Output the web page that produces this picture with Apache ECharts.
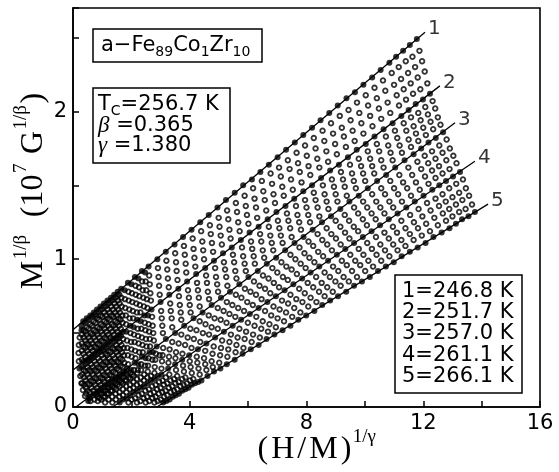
<!DOCTYPE html>
<html>
<head>
<meta charset="utf-8">
<script src="https://cdn.jsdelivr.net/npm/echarts@6/dist/echarts.min.js"></script>
<style>
html,body{margin:0;padding:0;background:#fff;}
#chart{width:559px;height:472px;}
</style>
</head>
<body>
<div id="chart"></div>
<script>
// Modified Arrott plot isotherms, a-Fe89Co1Zr10: [(H/M)^(1/gamma), M^(1/beta)] pairs.
// iso01, iso06, iso11, iso16, iso21 are the labelled isotherms 1-5 (filled dots).
// The second row of the colder isotherms holds the dense low-field readings.
const iso01 = [[0.29,0.52],[0.35,0.58],[0.47,0.60],[0.59,0.62],[0.71,0.64],[0.82,0.66],[0.94,0.68],[1.06,0.70],[1.18,0.72],[1.30,0.74],[1.41,0.76],[1.53,0.78],[1.65,0.80],[1.88,0.84],[2.12,0.88],[2.36,0.92],[2.59,0.95],[2.89,1.00],[3.18,1.05],[3.48,1.10],[3.77,1.15],[4.06,1.20],[4.36,1.25],[4.65,1.30],[4.95,1.35],[5.24,1.40],[5.54,1.45],[5.83,1.50],[6.13,1.54],[6.42,1.59],[6.71,1.64],[7.01,1.69],[7.30,1.74],[7.60,1.79],[7.89,1.84],[8.19,1.89],[8.48,1.94],[8.78,1.99],[9.07,2.04],[9.37,2.09],[9.66,2.13],[9.95,2.18],[10.25,2.23],[10.54,2.28],[10.84,2.33],[11.07,2.37],[11.31,2.41],[11.54,2.45],[11.78,2.49],
  [0.29,0.55],[0.41,0.57],[0.53,0.59],[0.65,0.61],[0.77,0.62],[0.88,0.64],[1.00,0.66],[1.12,0.68],[1.24,0.70],[1.35,0.72],[1.47,0.74],[1.59,0.76],[1.77,0.79],[2.00,0.83],[2.24,0.87],[2.47,0.91]];
const iso02 = [[0.23,0.47],[0.36,0.52],[0.47,0.54],[0.59,0.56],[0.71,0.58],[0.83,0.60],[0.95,0.62],[1.07,0.64],[1.19,0.66],[1.31,0.68],[1.42,0.70],[1.54,0.72],[1.66,0.74],[1.90,0.78],[2.14,0.82],[2.37,0.85],[2.61,0.89],[2.91,0.94],[3.20,0.99],[3.50,1.04],[3.80,1.09],[4.10,1.14],[4.39,1.19],[4.69,1.23],[4.99,1.28],[5.28,1.33],[5.58,1.38],[5.88,1.43],[6.17,1.48],[6.47,1.53],[6.77,1.58],[7.06,1.62],[7.36,1.67],[7.66,1.72],[7.95,1.77],[8.25,1.82],[8.55,1.87],[8.84,1.92],[9.14,1.97],[9.44,2.01],[9.73,2.06],[10.03,2.11],[10.33,2.16],[10.62,2.21],[10.92,2.26],[11.16,2.30],[11.40,2.34],[11.63,2.37],[11.87,2.41],
  [0.30,0.49],[0.42,0.51],[0.53,0.53],[0.65,0.55],[0.77,0.57],[0.89,0.59],[1.01,0.61],[1.13,0.62],[1.25,0.64],[1.37,0.66],[1.48,0.68],[1.60,0.70],[1.78,0.73],[2.02,0.77],[2.26,0.81],[2.49,0.85]];
const iso03 = [[0.20,0.42],[0.36,0.47],[0.48,0.49],[0.60,0.50],[0.72,0.52],[0.84,0.54],[0.96,0.56],[1.08,0.58],[1.20,0.60],[1.32,0.62],[1.44,0.64],[1.55,0.66],[1.67,0.68],[1.91,0.72],[2.15,0.76],[2.39,0.79],[2.63,0.83],[2.93,0.88],[3.23,0.93],[3.53,0.98],[3.83,1.03],[4.13,1.07],[4.43,1.12],[4.72,1.17],[5.02,1.22],[5.32,1.27],[5.62,1.32],[5.92,1.36],[6.22,1.41],[6.52,1.46],[6.82,1.51],[7.12,1.56],[7.42,1.61],[7.71,1.65],[8.01,1.70],[8.31,1.75],[8.61,1.80],[8.91,1.85],[9.21,1.89],[9.51,1.94],[9.81,1.99],[10.11,2.04],[10.41,2.09],[10.70,2.14],[11.00,2.18],[11.24,2.22],[11.48,2.26],[11.72,2.30],[11.96,2.34],
  [0.30,0.43],[0.42,0.45],[0.54,0.47],[0.66,0.49],[0.78,0.51],[0.90,0.53],[1.02,0.55],[1.14,0.57],[1.26,0.59],[1.38,0.61],[1.50,0.62],[1.61,0.64],[1.79,0.67],[2.03,0.71],[2.27,0.75],[2.51,0.79]];
const iso04 = [[0.19,0.365],[0.36,0.41],[0.48,0.43],[0.60,0.45],[0.72,0.47],[0.84,0.49],[0.96,0.51],[1.08,0.53],[1.21,0.55],[1.33,0.56],[1.45,0.58],[1.57,0.60],[1.69,0.62],[1.93,0.66],[2.17,0.70],[2.41,0.74],[2.65,0.77],[2.95,0.82],[3.25,0.87],[3.55,0.92],[3.86,0.97],[4.16,1.01],[4.46,1.06],[4.76,1.11],[5.06,1.16],[5.36,1.20],[5.66,1.25],[5.96,1.30],[6.27,1.35],[6.57,1.40],[6.87,1.44],[7.17,1.49],[7.47,1.54],[7.77,1.59],[8.07,1.63],[8.37,1.68],[8.68,1.73],[8.98,1.78],[9.28,1.83],[9.58,1.87],[9.88,1.92],[10.18,1.97],[10.48,2.02],[10.78,2.06],[11.09,2.11],[11.33,2.15],[11.57,2.19],[11.81,2.23],[12.05,2.27],
  [0.30,0.38],[0.42,0.40],[0.54,0.42],[0.66,0.43],[0.78,0.45],[0.90,0.47],[1.02,0.49],[1.14,0.51],[1.27,0.53],[1.39,0.55],[1.51,0.57],[1.63,0.59],[1.81,0.62],[2.05,0.65],[2.29,0.69],[2.53,0.73]];
const iso05 = [[0.20,0.31],[0.36,0.36],[0.49,0.38],[0.61,0.40],[0.73,0.41],[0.85,0.43],[0.97,0.45],[1.09,0.47],[1.21,0.49],[1.34,0.51],[1.46,0.53],[1.58,0.55],[1.70,0.57],[1.94,0.60],[2.19,0.64],[2.43,0.68],[2.67,0.72],[2.97,0.76],[3.28,0.81],[3.58,0.86],[3.88,0.91],[4.19,0.95],[4.49,1.00],[4.80,1.05],[5.10,1.10],[5.40,1.14],[5.71,1.19],[6.01,1.24],[6.31,1.28],[6.62,1.33],[6.92,1.38],[7.22,1.43],[7.53,1.47],[7.83,1.52],[8.13,1.57],[8.44,1.62],[8.74,1.66],[9.04,1.71],[9.35,1.76],[9.65,1.80],[9.95,1.85],[10.26,1.90],[10.56,1.95],[10.87,1.99],[11.17,2.04],[11.41,2.08],[11.65,2.12],[11.90,2.15],[12.14,2.19],
  [0.30,0.32],[0.42,0.34],[0.55,0.36],[0.67,0.38],[0.79,0.40],[0.91,0.42],[1.03,0.44],[1.15,0.46],[1.27,0.47],[1.40,0.49],[1.52,0.51],[1.64,0.53],[1.82,0.56],[2.06,0.60],[2.31,0.64],[2.55,0.67]];
const iso06 = [[0.22,0.26],[0.37,0.31],[0.49,0.32],[0.61,0.34],[0.73,0.36],[0.86,0.38],[0.98,0.40],[1.10,0.42],[1.22,0.44],[1.35,0.46],[1.47,0.47],[1.59,0.49],[1.71,0.51],[1.96,0.55],[2.20,0.59],[2.45,0.62],[2.69,0.66],[3.00,0.71],[3.30,0.76],[3.61,0.80],[3.91,0.85],[4.22,0.90],[4.53,0.94],[4.83,0.99],[5.14,1.04],[5.44,1.08],[5.75,1.13],[6.05,1.18],[6.36,1.22],[6.67,1.27],[6.97,1.32],[7.28,1.36],[7.58,1.41],[7.89,1.46],[8.19,1.50],[8.50,1.55],[8.81,1.60],[9.11,1.64],[9.42,1.69],[9.72,1.74],[10.03,1.78],[10.33,1.83],[10.64,1.88],[10.95,1.92],[11.25,1.97],[11.50,2.01],[11.74,2.05],[11.99,2.08],[12.23,2.12],
  [0.31,0.27],[0.43,0.29],[0.55,0.31],[0.67,0.33],[0.79,0.35],[0.92,0.37],[1.04,0.38],[1.16,0.40],[1.28,0.42],[1.41,0.44],[1.53,0.46],[1.65,0.48],[1.83,0.51],[2.08,0.54],[2.32,0.58],[2.57,0.62]];
const iso07 = [[0.25,0.21],[0.37,0.25],[0.49,0.27],[0.62,0.29],[0.74,0.31],[0.86,0.33],[0.99,0.35],[1.11,0.36],[1.23,0.38],[1.36,0.40],[1.48,0.42],[1.60,0.44],[1.72,0.46],[1.97,0.50],[2.22,0.53],[2.46,0.57],[2.71,0.61],[3.02,0.65],[3.33,0.70],[3.63,0.75],[3.94,0.79],[4.25,0.84],[4.56,0.89],[4.87,0.94],[5.17,0.98],[5.48,1.03],[5.79,1.08],[6.10,1.12],[6.41,1.17],[6.71,1.22],[7.02,1.26],[7.33,1.31],[7.64,1.36],[7.95,1.40],[8.25,1.45],[8.56,1.50],[8.87,1.54],[9.18,1.59],[9.49,1.64],[9.79,1.68],[10.10,1.73],[10.41,1.78],[10.72,1.83],[11.03,1.87],[11.33,1.92],[11.58,1.96],[11.83,1.99],[12.07,2.03],[12.32,2.07],
  [0.31,0.22],[0.43,0.24],[0.55,0.25],[0.68,0.27],[0.80,0.29],[0.92,0.31],[1.05,0.33],[1.17,0.35],[1.29,0.37],[1.42,0.39],[1.54,0.40],[1.66,0.42],[1.85,0.45],[2.09,0.49],[2.34,0.53],[2.59,0.56]];
const iso08 = [[0.29,0.16],[0.37,0.20],[0.50,0.22],[0.62,0.24],[0.74,0.25],[0.87,0.27],[0.99,0.29],[1.12,0.31],[1.24,0.33],[1.37,0.35],[1.49,0.37],[1.61,0.39],[1.74,0.40],[1.99,0.44],[2.23,0.48],[2.48,0.52],[2.73,0.55],[3.04,0.60],[3.35,0.65],[3.66,0.69],[3.97,0.74],[4.28,0.79],[4.59,0.84],[4.90,0.88],[5.21,0.93],[5.52,0.98],[5.83,1.02],[6.14,1.07],[6.45,1.12],[6.76,1.16],[7.07,1.21],[7.38,1.26],[7.69,1.30],[8.00,1.35],[8.31,1.40],[8.62,1.44],[8.94,1.49],[9.25,1.54],[9.56,1.58],[9.87,1.63],[10.18,1.68],[10.49,1.73],[10.80,1.77],[11.11,1.82],[11.42,1.87],[11.67,1.90],[11.91,1.94],[12.16,1.98],[12.41,2.02],
  [0.31,0.16],[0.43,0.18],[0.56,0.20],[0.68,0.22],[0.81,0.24],[0.93,0.26],[1.05,0.28],[1.18,0.30],[1.30,0.31],[1.43,0.33],[1.55,0.35],[1.68,0.37],[1.86,0.40],[2.11,0.44],[2.36,0.47],[2.61,0.51]];
const iso09 = [[0.34,0.115],[0.38,0.15],[0.50,0.16],[0.62,0.18],[0.75,0.20],[0.88,0.22],[1.00,0.24],[1.12,0.26],[1.25,0.28],[1.38,0.30],[1.50,0.31],[1.62,0.33],[1.75,0.35],[2.00,0.39],[2.25,0.43],[2.50,0.46],[2.75,0.50],[3.06,0.55],[3.38,0.60],[3.69,0.64],[4.00,0.69],[4.31,0.74],[4.62,0.78],[4.94,0.83],[5.25,0.88],[5.56,0.92],[5.88,0.97],[6.19,1.02],[6.50,1.06],[6.81,1.11],[7.12,1.16],[7.44,1.21],[7.75,1.25],[8.06,1.30],[8.38,1.35],[8.69,1.39],[9.00,1.44],[9.31,1.49],[9.62,1.53],[9.94,1.58],[10.25,1.63],[10.56,1.67],[10.88,1.72],[11.19,1.77],[11.50,1.81],[11.75,1.85],[12.00,1.89],[12.25,1.93],[12.50,1.96],
  [0.44,0.13],[0.56,0.15],[0.69,0.17],[0.81,0.19],[0.94,0.20],[1.06,0.22],[1.19,0.24],[1.31,0.26],[1.44,0.28],[1.56,0.30],[1.69,0.32],[1.88,0.35],[2.13,0.38],[2.38,0.42],[2.63,0.46]];
const iso10 = [[0.41,0.075],[0.45,0.09],[0.50,0.11],[0.63,0.13],[0.76,0.15],[0.88,0.17],[1.01,0.19],[1.13,0.21],[1.26,0.22],[1.38,0.24],[1.51,0.26],[1.64,0.28],[1.76,0.30],[2.01,0.34],[2.27,0.37],[2.52,0.41],[2.77,0.45],[3.08,0.50],[3.40,0.54],[3.71,0.59],[4.03,0.64],[4.34,0.68],[4.66,0.73],[4.97,0.78],[5.29,0.82],[5.60,0.87],[5.92,0.92],[6.23,0.97],[6.55,1.01],[6.86,1.06],[7.18,1.11],[7.49,1.15],[7.81,1.20],[8.12,1.25],[8.44,1.29],[8.75,1.34],[9.06,1.39],[9.38,1.43],[9.69,1.48],[10.01,1.53],[10.32,1.58],[10.64,1.62],[10.95,1.67],[11.27,1.72],[11.58,1.76],[11.83,1.80],[12.09,1.84],[12.34,1.88],[12.59,1.91],
  [0.57,0.10],[0.69,0.11],[0.82,0.13],[0.94,0.15],[1.07,0.17],[1.20,0.19],[1.32,0.21],[1.45,0.23],[1.57,0.25],[1.70,0.27],[1.89,0.29],[2.14,0.33],[2.39,0.37],[2.64,0.41]];
const iso11 = [[0.52,0.04],[0.56,0.06],[0.60,0.07],[0.73,0.09],[0.85,0.11],[0.98,0.13],[1.11,0.15],[1.23,0.17],[1.36,0.19],[1.48,0.20],[1.61,0.22],[1.74,0.24],[1.86,0.26],[2.11,0.30],[2.36,0.34],[2.62,0.37],[2.87,0.41],[3.18,0.46],[3.50,0.50],[3.81,0.55],[4.13,0.60],[4.44,0.64],[4.75,0.69],[5.07,0.74],[5.38,0.78],[5.70,0.83],[6.01,0.88],[6.33,0.92],[6.64,0.97],[6.96,1.01],[7.27,1.06],[7.59,1.11],[7.90,1.15],[8.21,1.20],[8.53,1.25],[8.84,1.29],[9.16,1.34],[9.47,1.39],[9.79,1.43],[10.10,1.48],[10.42,1.53],[10.73,1.57],[11.04,1.62],[11.36,1.67],[11.67,1.71],[11.93,1.75],[12.18,1.79],[12.43,1.82],[12.68,1.86],
  [0.79,0.08],[0.92,0.10],[1.04,0.11],[1.17,0.13],[1.30,0.15],[1.42,0.17],[1.55,0.19],[1.67,0.21],[1.80,0.23],[1.99,0.25],[2.24,0.29],[2.49,0.33],[2.74,0.37]];
const iso12 = [[0.60,0.04],[0.73,0.05],[0.85,0.07],[0.97,0.09],[1.10,0.11],[1.22,0.13],[1.35,0.14],[1.47,0.16],[1.60,0.18],[1.72,0.20],[1.85,0.22],[1.97,0.23],[2.09,0.25],[2.34,0.29],[2.59,0.33],[2.84,0.36],[3.09,0.40],[3.40,0.44],[3.71,0.49],[4.02,0.53],[4.34,0.58],[4.65,0.62],[4.96,0.67],[5.27,0.71],[5.58,0.76],[5.89,0.80],[6.20,0.85],[6.51,0.89],[6.83,0.94],[7.14,0.98],[7.45,1.03],[7.76,1.08],[8.07,1.12],[8.38,1.17],[8.69,1.21],[9.00,1.26],[9.31,1.30],[9.63,1.35],[9.94,1.39],[10.25,1.44],[10.56,1.48],[10.87,1.53],[11.18,1.57],[11.49,1.62],[11.80,1.66],[12.05,1.70],[12.30,1.73],[12.55,1.77],[12.80,1.81],
  [0.91,0.06],[1.04,0.07],[1.16,0.09],[1.29,0.11],[1.41,0.13],[1.53,0.15],[1.66,0.17],[1.78,0.18],[1.91,0.20],[2.03,0.22],[2.22,0.25],[2.47,0.28],[2.72,0.32],[2.97,0.35]];
const iso13 = [[0.85,0.04],[0.97,0.05],[1.10,0.07],[1.22,0.09],[1.34,0.11],[1.47,0.12],[1.59,0.14],[1.71,0.16],[1.83,0.18],[1.96,0.19],[2.08,0.21],[2.20,0.23],[2.33,0.25],[2.57,0.28],[2.82,0.32],[3.07,0.35],[3.31,0.39],[3.62,0.43],[3.93,0.47],[4.23,0.52],[4.54,0.56],[4.85,0.60],[5.16,0.65],[5.46,0.69],[5.77,0.74],[6.08,0.78],[6.39,0.82],[6.70,0.87],[7.00,0.91],[7.31,0.95],[7.62,1.00],[7.93,1.04],[8.23,1.09],[8.54,1.13],[8.85,1.17],[9.16,1.22],[9.46,1.26],[9.77,1.31],[10.08,1.35],[10.39,1.39],[10.69,1.44],[11.00,1.48],[11.31,1.52],[11.62,1.57],[11.93,1.61],[12.17,1.65],[12.42,1.68],[12.66,1.72],[12.91,1.75]];
const iso14 = [[1.10,0.03],[1.22,0.05],[1.34,0.07],[1.46,0.09],[1.59,0.10],[1.71,0.12],[1.83,0.14],[1.95,0.15],[2.07,0.17],[2.19,0.19],[2.32,0.20],[2.44,0.22],[2.56,0.24],[2.80,0.27],[3.05,0.31],[3.29,0.34],[3.53,0.37],[3.84,0.42],[4.14,0.46],[4.45,0.50],[4.75,0.54],[5.06,0.59],[5.36,0.63],[5.66,0.67],[5.97,0.71],[6.27,0.76],[6.58,0.80],[6.88,0.84],[7.19,0.88],[7.49,0.93],[7.80,0.97],[8.10,1.01],[8.40,1.05],[8.71,1.10],[9.01,1.14],[9.32,1.18],[9.62,1.22],[9.93,1.27],[10.23,1.31],[10.53,1.35],[10.84,1.39],[11.14,1.44],[11.45,1.48],[11.75,1.52],[12.06,1.56],[12.30,1.60],[12.54,1.63],[12.79,1.67],[13.03,1.70]];
const iso15 = [[1.35,0.03],[1.47,0.05],[1.59,0.07],[1.71,0.08],[1.83,0.10],[1.95,0.12],[2.07,0.13],[2.19,0.15],[2.31,0.16],[2.43,0.18],[2.55,0.20],[2.67,0.21],[2.79,0.23],[3.03,0.26],[3.27,0.30],[3.51,0.33],[3.75,0.36],[4.06,0.40],[4.36,0.44],[4.66,0.49],[4.96,0.53],[5.26,0.57],[5.56,0.61],[5.86,0.65],[6.16,0.69],[6.46,0.73],[6.76,0.77],[7.06,0.81],[7.36,0.86],[7.67,0.90],[7.97,0.94],[8.27,0.98],[8.57,1.02],[8.87,1.06],[9.17,1.10],[9.47,1.14],[9.77,1.19],[10.07,1.23],[10.37,1.27],[10.67,1.31],[10.97,1.35],[11.27,1.39],[11.58,1.43],[11.88,1.47],[12.18,1.51],[12.42,1.55],[12.66,1.58],[12.90,1.61],[13.14,1.65]];
const iso16 = [[1.60,0.03],[1.72,0.05],[1.84,0.06],[1.96,0.08],[2.07,0.10],[2.19,0.11],[2.31,0.13],[2.43,0.14],[2.55,0.16],[2.67,0.18],[2.79,0.19],[2.91,0.21],[3.03,0.22],[3.26,0.26],[3.50,0.29],[3.74,0.32],[3.98,0.35],[4.28,0.39],[4.57,0.43],[4.87,0.47],[5.17,0.51],[5.47,0.55],[5.76,0.59],[6.06,0.63],[6.36,0.67],[6.66,0.71],[6.95,0.75],[7.25,0.79],[7.55,0.83],[7.85,0.87],[8.14,0.91],[8.44,0.95],[8.74,0.99],[9.04,1.03],[9.33,1.07],[9.63,1.11],[9.93,1.15],[10.23,1.19],[10.52,1.23],[10.82,1.27],[11.12,1.31],[11.42,1.35],[11.71,1.39],[12.01,1.43],[12.31,1.47],[12.55,1.50],[12.78,1.53],[13.02,1.56],[13.26,1.59]];
const iso17 = [[1.90,0.03],[2.01,0.05],[2.13,0.06],[2.25,0.08],[2.36,0.09],[2.48,0.11],[2.60,0.12],[2.71,0.14],[2.83,0.15],[2.95,0.17],[3.07,0.18],[3.18,0.20],[3.30,0.22],[3.53,0.25],[3.77,0.28],[4.00,0.31],[4.24,0.34],[4.53,0.38],[4.82,0.41],[5.11,0.45],[5.41,0.49],[5.70,0.53],[5.99,0.57],[6.28,0.61],[6.58,0.65],[6.87,0.68],[7.16,0.72],[7.45,0.76],[7.75,0.80],[8.04,0.84],[8.33,0.88],[8.62,0.91],[8.91,0.95],[9.21,0.99],[9.50,1.03],[9.79,1.07],[10.08,1.11],[10.38,1.15],[10.67,1.18],[10.96,1.22],[11.25,1.26],[11.55,1.30],[11.84,1.34],[12.13,1.38],[12.42,1.41],[12.66,1.44],[12.89,1.48],[13.13,1.51],[13.36,1.54]];
const iso18 = [[2.19,0.03],[2.31,0.04],[2.42,0.06],[2.54,0.07],[2.65,0.09],[2.77,0.10],[2.88,0.12],[3.00,0.13],[3.11,0.15],[3.23,0.16],[3.34,0.18],[3.46,0.19],[3.57,0.21],[3.80,0.24],[4.03,0.27],[4.26,0.30],[4.49,0.33],[4.78,0.36],[5.07,0.40],[5.36,0.44],[5.64,0.47],[5.93,0.51],[6.22,0.55],[6.50,0.58],[6.79,0.62],[7.08,0.66],[7.37,0.70],[7.65,0.73],[7.94,0.77],[8.23,0.81],[8.52,0.84],[8.80,0.88],[9.09,0.92],[9.38,0.96],[9.67,0.99],[9.95,1.03],[10.24,1.07],[10.53,1.10],[10.82,1.14],[11.10,1.18],[11.39,1.21],[11.68,1.25],[11.97,1.29],[12.25,1.33],[12.54,1.36],[12.77,1.39],[13.00,1.42],[13.23,1.45],[13.46,1.48]];
const iso19 = [[2.49,0.03],[2.61,0.04],[2.72,0.06],[2.83,0.07],[2.94,0.09],[3.06,0.10],[3.17,0.11],[3.28,0.13],[3.40,0.14],[3.51,0.16],[3.62,0.17],[3.74,0.19],[3.85,0.20],[4.07,0.23],[4.30,0.26],[4.53,0.29],[4.75,0.31],[5.04,0.35],[5.32,0.39],[5.60,0.42],[5.88,0.46],[6.17,0.49],[6.45,0.53],[6.73,0.56],[7.01,0.60],[7.30,0.64],[7.58,0.67],[7.86,0.71],[8.14,0.74],[8.43,0.78],[8.71,0.81],[8.99,0.85],[9.27,0.88],[9.56,0.92],[9.84,0.96],[10.12,0.99],[10.40,1.03],[10.69,1.06],[10.97,1.10],[11.25,1.13],[11.54,1.17],[11.82,1.21],[12.10,1.24],[12.38,1.28],[12.67,1.31],[12.89,1.34],[13.12,1.37],[13.34,1.40],[13.57,1.43]];
const iso20 = [[2.79,0.03],[2.90,0.04],[3.01,0.05],[3.12,0.07],[3.23,0.08],[3.35,0.10],[3.46,0.11],[3.57,0.12],[3.68,0.14],[3.79,0.15],[3.90,0.16],[4.01,0.18],[4.12,0.19],[4.34,0.22],[4.57,0.25],[4.79,0.27],[5.01,0.30],[5.29,0.34],[5.57,0.37],[5.84,0.40],[6.12,0.44],[6.40,0.47],[6.68,0.51],[6.95,0.54],[7.23,0.58],[7.51,0.61],[7.79,0.64],[8.06,0.68],[8.34,0.71],[8.62,0.75],[8.90,0.78],[9.17,0.82],[9.45,0.85],[9.73,0.88],[10.01,0.92],[10.28,0.95],[10.56,0.99],[10.84,1.02],[11.12,1.06],[11.39,1.09],[11.67,1.13],[11.95,1.16],[12.23,1.19],[12.50,1.23],[12.78,1.26],[13.00,1.29],[13.23,1.32],[13.45,1.34],[13.67,1.37]];
const iso21 = [[3.09,0.03],[3.20,0.04],[3.31,0.05],[3.42,0.07],[3.52,0.08],[3.63,0.09],[3.74,0.11],[3.85,0.12],[3.96,0.13],[4.07,0.15],[4.18,0.16],[4.29,0.17],[4.40,0.18],[4.61,0.21],[4.83,0.24],[5.05,0.26],[5.27,0.29],[5.54,0.32],[5.81,0.36],[6.09,0.39],[6.36,0.42],[6.63,0.46],[6.90,0.49],[7.18,0.52],[7.45,0.55],[7.72,0.59],[7.99,0.62],[8.27,0.65],[8.54,0.69],[8.81,0.72],[9.08,0.75],[9.36,0.78],[9.63,0.82],[9.90,0.85],[10.17,0.88],[10.45,0.92],[10.72,0.95],[10.99,0.98],[11.26,1.02],[11.54,1.05],[11.81,1.08],[12.08,1.11],[12.35,1.15],[12.63,1.18],[12.90,1.21],[13.12,1.24],[13.33,1.27],[13.55,1.29],[13.77,1.32]];

const labelledIsotherms = [iso01, iso06, iso11, iso16, iso21];
const otherIsotherms = [iso02, iso03, iso04, iso05, iso07, iso08, iso09, iso10,
  iso12, iso13, iso14, iso15, iso17, iso18, iso19, iso20];

// Straight-line fits to the high-field parts of isotherms 1-5
const fitLines = [
  [[0, 0.522], [12.06, 2.536]],
  [[0, 0.25], [12.57, 2.173]],
  [[0.10, 0], [13.09, 1.923]],
  [[1.36, 0], [13.77, 1.663]],
  [[2.87, 0], [14.22, 1.373]]
];
const lineTags = ['1', '2', '3', '4', '5'];
const tempKey = ['1=246.8 K', '2=251.7 K', '3=257.0 K', '4=261.1 K', '5=266.1 K'];
const xTickLabels = [0, 4, 8, 12, 16];
const yTickLabels = [0, 1, 2];

const SANS = '"DejaVu Sans"';
const SERIF = '"Liberation Serif"';

const chart = echarts.init(document.getElementById('chart'), null, {renderer: 'canvas'});

const series = [];
fitLines.forEach(function (seg) {
  series.push({
    type: 'line', data: seg, symbol: 'none', silent: true, z: 2,
    lineStyle: {color: '#000', width: 1.3}
  });
});
otherIsotherms.forEach(function (d) {
  series.push({
    type: 'scatter', data: d, symbol: 'circle', symbolSize: 4.6, silent: true, z: 3,
    itemStyle: {color: 'rgba(0,0,0,0)', borderColor: '#000', borderWidth: 1.8}
  });
});
labelledIsotherms.forEach(function (d) {
  series.push({
    type: 'scatter', data: d, symbol: 'circle', symbolSize: 6, silent: true, z: 4,
    itemStyle: {color: '#000'}
  });
});
series.push({
  type: 'scatter', symbolSize: 0, silent: true, z: 5,
  data: fitLines.map(function (seg, i) { return {name: lineTags[i], value: seg[1]}; }),
  label: {
    show: true, position: 'right', distance: 3, offset: [0, -3],
    formatter: '{b}', color: '#000', fontFamily: SANS, fontSize: 20
  }
});

const axisCommon = {
  type: 'value',
  axisLine: {show: true, lineStyle: {color: '#000', width: 1.6}},
  axisTick: {show: true, inside: true, length: 6, lineStyle: {color: '#000', width: 1.5}},
  splitLine: {show: false}
};

const titleRich = {
  m: {fontFamily: SERIF, fontSize: 32, lineHeight: 38, verticalAlign: 'bottom', padding: [0, 1.5, 0, 1.5], fill: '#000'},
  s: {fontFamily: SERIF, fontSize: 19, lineHeight: 19, verticalAlign: 'top', fill: '#000'},
  g: {fontFamily: SERIF, fontSize: 32, lineHeight: 38, verticalAlign: 'bottom', fill: '#000'}
};

chart.setOption({
  animation: false,
  backgroundColor: '#fff',
  grid: {left: 73, right: 19, top: 8, bottom: 65, show: true, borderColor: '#000', borderWidth: 1.6},
  xAxis: Object.assign({}, axisCommon, {
    min: 0, max: 16, interval: 2,
    axisLabel: {
      interval: 0, margin: 6, color: '#000', fontFamily: SANS, fontSize: 21,
      formatter: function (v) { return xTickLabels.indexOf(v) >= 0 ? String(v) : ''; }
    }
  }),
  yAxis: Object.assign({}, axisCommon, {
    min: 0, max: 2.7, interval: 0.5,
    axisLabel: {
      interval: 0, margin: 6, color: '#000', fontFamily: SANS, fontSize: 21,
      formatter: function (v) {
        const r = Math.round(v);
        return (Math.abs(v - r) < 1e-6 && yTickLabels.indexOf(r) >= 0) ? String(r) : '';
      }
    }
  }),
  series: series,
  graphic: [
    // composition box
    {type: 'rect', z: 20, shape: {x: 93, y: 29, width: 169, height: 33},
      style: {fill: '#fff', stroke: '#000', lineWidth: 1.5}},
    {type: 'text', z: 21, x: 101, y: 46, style: {
      text: '{m|a\u2212Fe}{s|89}{m|Co}{s|1}{m|Zr}{s|10}',
      textVerticalAlign: 'middle',
      rich: {
        m: {fontFamily: SANS, fontSize: 21, lineHeight: 26, verticalAlign: 'middle', fill: '#000'},
        s: {fontFamily: SANS, fontSize: 14, lineHeight: 14, verticalAlign: 'bottom', fill: '#000'}
      }}},
    // fitted exponents box
    {type: 'rect', z: 20, shape: {x: 93, y: 88, width: 137, height: 75},
      style: {fill: '#fff', stroke: '#000', lineWidth: 1.5}},
    {type: 'text', z: 21, x: 98, y: 105, style: {
      text: '{m|T}{s|C}{m|=256.7 K}', textVerticalAlign: 'middle',
      rich: {
        m: {fontFamily: SANS, fontSize: 21, lineHeight: 26, verticalAlign: 'middle', fill: '#000'},
        s: {fontFamily: SANS, fontSize: 14, lineHeight: 14, verticalAlign: 'bottom', fill: '#000'}
      }}},
    {type: 'text', z: 21, x: 98, y: 125.5, style: {
      text: '{g|\u03b2}{m| =0.365}', textVerticalAlign: 'middle',
      rich: {
        g: {fontFamily: SERIF, fontStyle: 'italic', fontSize: 23, fill: '#000'},
        m: {fontFamily: SANS, fontSize: 21, fill: '#000'}
      }}},
    {type: 'text', z: 21, x: 98, y: 145.5, style: {
      text: '{g|\u03b3}{m| =1.380}', textVerticalAlign: 'middle',
      rich: {
        g: {fontFamily: SERIF, fontStyle: 'italic', fontSize: 23, fill: '#000'},
        m: {fontFamily: SANS, fontSize: 21, fill: '#000'}
      }}},
    // temperature key
    {type: 'rect', z: 20, shape: {x: 395, y: 275, width: 127, height: 118},
      style: {fill: '#fff', stroke: '#000', lineWidth: 1.5}},
    {type: 'text', z: 21, x: 402, y: 334, style: {
      text: tempKey.join('\n'), textVerticalAlign: 'middle',
      fontFamily: SANS, fontSize: 21, lineHeight: 21.3, fill: '#000'}},
    // axis titles
    {type: 'text', z: 21, x: 316, y: 447, style: {
      text: '{m|(}{m|H}{m|/}{m|M}{m|)}{s|1/\u03b3}', textAlign: 'center', textVerticalAlign: 'middle',
      rich: titleRich}},
    {type: 'text', z: 21, x: 31, y: 191, rotation: Math.PI / 2, style: {
      text: '{m|M}{s|1/\u03b2}{g|  }{m|(10}{s|7}{g| }{m|G}{s|1/\u03b2}{m|)}',
      textAlign: 'center', textVerticalAlign: 'middle',
      rich: titleRich}}
  ]
});
</script>
</body>
</html>
